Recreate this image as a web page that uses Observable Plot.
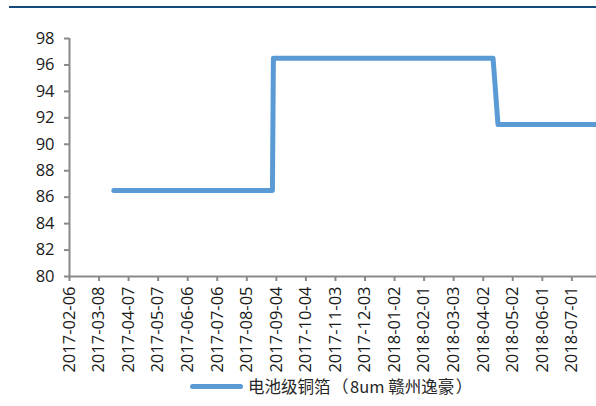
<!DOCTYPE html>
<html>
<head>
<meta charset="utf-8">
<script src="https://cdn.jsdelivr.net/npm/d3@7"></script>
<script src="https://cdn.jsdelivr.net/npm/@observablehq/plot@0.6"></script>
<style>
  html, body { margin: 0; padding: 0; background: #fff; }
  #wrap { position: relative; width: 596px; height: 406px; overflow: hidden; font-family: "Open Sans", "Noto Sans CJK SC", sans-serif; }
  #topline { display: block; margin: 6px 0 0 9px; width: 587px; height: 2px; background-color: #154a7d; position: relative; z-index: 5; }
  #chart { position: absolute; left: 0; top: 0; z-index: 1; }
  #legend { position: absolute; left: 190px; top: 374px; height: 24px; display: flex; align-items: center; font-size: 16.5px; color: #262626; white-space: nowrap; z-index: 5; }
  #legend .swatch { width: 53px; height: 5px; border-radius: 3px; background: #5b9bd5; margin-right: 5px; }
  #legend .lbl { font-family: "Noto Sans CJK SC", sans-serif; font-feature-settings: "chws" 0, "halt" 0; }
  #legend .p { display: inline-block; margin: 0 1.5px; }
</style>
</head>
<body>
<div id="wrap">
  <div id="topline"></div>
  <div id="chart"></div>
  <div id="legend"><span class="swatch"></span><span class="lbl"></span></div>
</div>
<script>
// ---- data ----
const seriesName = "电池级铜箔（8um 赣州逸豪）";
const dates = ["2017-03-23", "2017-08-31", "2017-09-01", "2018-04-12", "2018-04-17", "2018-07-26"];
const prices = [86.5, 86.5, 96.5, 96.5, 91.5, 91.5];
const xTickLabels = ["2017-02-06","2017-03-08","2017-04-07","2017-05-07","2017-06-06","2017-07-06","2017-08-05","2017-09-04","2017-10-04","2017-11-03","2017-12-03","2018-01-02","2018-02-01","2018-03-03","2018-04-02","2018-05-02","2018-06-01","2018-07-01"];
const yTicks = [80, 82, 84, 86, 88, 90, 92, 94, 96, 98];
const xDomainLabels = ["2017-02-06", "2018-07-26"];

const parse = d3.utcParse("%Y-%m-%d");
const fmt = d3.utcFormat("%Y-%m-%d");
const data = dates.map((d, i) => ({date: parse(d), price: prices[i]}));
const xDomain = xDomainLabels.map(parse);
const xTicks = xTickLabels.map(parse);

// legend label: full-width parentheses kept at full width
const lbl = document.querySelector("#legend .lbl");
seriesName.split(/([（）])/).filter(s => s.length).forEach(part => {
  const s = document.createElement("span");
  if (part === "（" || part === "）") s.className = "p";
  s.textContent = part;
  lbl.appendChild(s);
});

const chart = Plot.plot({
  width: 596,
  height: 380,
  marginLeft: 69,
  marginRight: 0,
  marginTop: 38,
  marginBottom: 104,
  style: {fontFamily: "'Open Sans', 'Noto Sans CJK SC', sans-serif", fontSize: "16.5px", background: "none", overflow: "visible"},
  x: {type: "utc", domain: xDomain, label: null},
  y: {domain: [yTicks[0], yTicks[yTicks.length - 1]], label: null},
  marks: [
    Plot.ruleX([xDomain[0]], {stroke: "#898989", strokeWidth: 2}),
    Plot.ruleY([yTicks[0]], {stroke: "#898989", strokeWidth: 2}),
    Plot.axisY({ticks: yTicks, label: null, tickSize: 5, tickPadding: 10, stroke: "#898989", strokeWidth: 2, fill: "#1a1a1a", fontSize: 16.5, tickFormat: d => String(d)}),
    Plot.axisX({ticks: xTicks, label: null, tickSize: 5, tickPadding: 5, tickRotate: -90, stroke: "#898989", strokeWidth: 2, fill: "#1a1a1a", fontSize: 16.5, tickFormat: d => fmt(d)}),
    Plot.line(data, {x: "date", y: "price", stroke: "#5b9bd5", strokeWidth: 5, strokeLinecap: "round", strokeLinejoin: "round"})
  ]
});
document.getElementById("chart").appendChild(chart);
</script>
</body>
</html>
